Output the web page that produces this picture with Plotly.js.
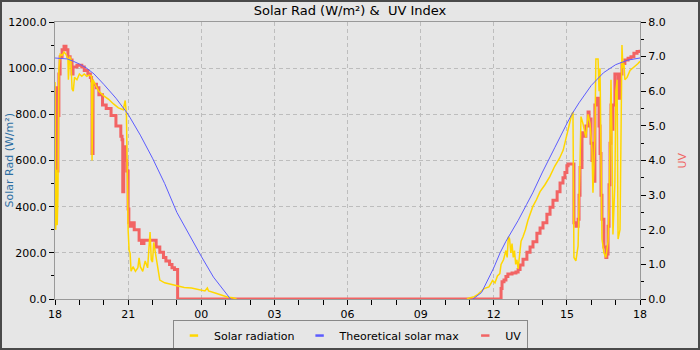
<!DOCTYPE html>
<html><head><meta charset="utf-8">
<script src="https://cdn.plot.ly/plotly-3.0.1.min.js"></script>
<style>
html,body{margin:0;padding:0;background:#e6e6e6;}
#wrap{position:relative;width:700px;height:350px;overflow:hidden;}
#chart{width:700px;height:350px;}
#frame{position:absolute;left:0;top:0;width:700px;height:350px;box-sizing:border-box;border:2px solid #4a4a4a;pointer-events:none;}
</style></head>
<body><div id="wrap"><div id="chart"></div><div id="frame"></div></div>
<script>
// Hours since 18:00 (0 = 18:00, 24 = 18:00 next day)
const tickVals = [0,3,6,9,12,15,18,21,24];
const tickText = ['18','21','00','03','06','09','12','15','18'];

const solarHours = [0.00,0.03,0.06,0.09,0.12,0.16,0.21,0.29,0.37,0.45,0.53,0.55,0.60,0.65,0.70,0.75,0.80,0.90,1.00,1.10,1.20,1.30,1.40,1.50,1.52,1.56,1.65,1.80,2.00,2.20,2.40,2.60,2.80,2.88,2.93,2.96,3.00,3.04,3.08,3.12,3.20,3.30,3.40,3.45,3.50,3.60,3.70,3.80,3.85,3.90,3.95,4.00,4.05,4.15,4.20,4.30,4.50,4.70,5.00,5.30,5.60,5.90,6.00,6.15,6.25,6.30,6.60,6.90,7.10,7.30,7.45,
  null,
  16.90,17.00,17.20,17.35,17.50,17.60,17.80,17.95,18.05,18.15,18.25,18.30,18.40,18.50,18.55,18.60,18.65,18.70,18.75,18.80,18.85,18.90,18.95,19.00,19.05,19.12,19.20,19.30,19.40,19.50,19.60,19.75,19.90,20.10,20.30,20.50,20.70,20.85,21.00,21.10,21.20,21.25,
  21.29,21.37,21.46,21.54,21.58,21.66,21.78,21.87,21.95,22.03,22.07,22.15,22.19,22.28,22.32,22.36,22.40,22.44,22.52,22.60,22.69,22.73,22.77,22.81,22.85,22.89,22.97,23.01,23.06,23.10,23.18,23.22,23.26,23.30,23.34,23.38,23.47,23.59,23.71,23.84,23.92,24.00];
const solarValues = [940,300,560,320,450,1000,1060,1055,1070,1060,1040,950,1050,1040,910,900,960,950,975,965,975,965,970,965,600,950,930,900,880,865,845,828,820,860,800,560,300,210,200,120,140,120,135,178,140,120,165,135,200,290,170,160,245,180,140,82,70,65,55,50,48,40,38,35,48,35,25,15,8,5,0,
  null,
  0,5,10,20,35,45,52,80,70,100,110,150,170,210,180,270,260,200,240,180,210,150,170,130,180,250,270,300,340,370,400,430,465,495,530,575,610,645,710,760,800,810,
  180,165,230,600,790,760,700,800,760,650,460,700,1040,1040,900,1000,560,260,200,180,250,400,700,950,700,280,500,900,950,260,300,800,1100,1000,1020,950,960,990,1000,1010,1020,1030];

const maxHours = [0.00,0.25,0.50,0.75,1.00,1.30,1.60,2.00,2.50,3.00,3.50,4.00,4.50,5.00,5.50,6.00,6.50,7.00,7.20,
  null,
  17.15,17.50,18.00,18.26,18.50,19.00,19.35,19.60,20.00,20.20,20.50,21.00,21.20,21.50,22.00,22.50,22.77,23.00,23.50,24.00];
const maxValues = [1044,1043,1040,1030,1018,1000,975,930,870,800,710,610,500,375,277,185,95,26,0,
  null,
  0,28,135,200,250,340,410,460,550,595,655,760,800,850,925,980,1000,1015,1035,1044];

const uvHours = [0.00,0.04,0.08,0.10,0.12,0.16,0.21,0.29,0.37,0.45,0.53,0.62,0.70,0.74,0.90,1.10,1.20,1.35,1.45,1.50,1.52,1.56,1.70,1.80,1.95,2.10,2.30,2.50,2.70,2.75,2.78,2.82,2.90,2.95,3.00,3.03,3.08,3.15,3.25,3.35,3.45,3.55,3.65,3.80,4.05,4.15,4.30,4.45,4.55,4.70,4.80,4.90,5.02,5.03,
  18.25,18.30,18.34,18.42,18.50,18.58,18.75,18.91,19.00,19.08,19.20,19.36,19.49,19.61,19.77,19.90,20.02,20.18,20.31,20.43,20.60,20.72,20.84,20.92,21.00,21.05,21.25,
  21.29,21.37,21.46,21.50,21.54,21.62,21.70,21.78,21.87,21.91,21.99,22.03,22.11,22.15,22.23,22.32,22.36,22.40,22.44,22.52,22.60,22.64,22.69,22.73,22.77,22.81,22.85,22.89,22.97,23.06,23.10,23.18,23.26,23.38,23.51,23.63,23.75,23.88,24.00];
const uvValues = [6.1,4.7,5.3,3.7,5.3,6.5,7.0,7.2,7.3,7.2,7.0,6.9,6.5,6.7,6.75,6.7,6.6,6.5,6.4,6.3,4.2,6.2,6.1,5.9,5.6,5.5,5.3,5.0,4.7,4.6,3.1,4.4,4.0,3.7,2.6,2.2,2.1,2.2,2.0,2.0,1.7,1.6,1.7,1.7,1.7,1.5,1.35,1.2,1.1,1.0,0.9,0.85,0.85,0,
  0,0.3,0.5,0.55,0.65,0.72,0.75,0.78,0.85,0.98,1.15,1.35,1.5,1.65,1.9,2.05,2.2,2.45,2.65,2.85,3.1,3.35,3.5,3.65,3.85,3.9,3.9,
  2.2,2.1,2.3,3.0,3.8,4.8,4.7,5.0,5.4,5.2,4.5,4.0,3.4,5.6,5.8,5.0,4.2,3.0,2.3,1.5,1.2,1.3,2.1,3.3,4.5,5.6,4.9,5.6,6.5,6.5,5.8,6.5,6.8,6.9,6.95,7.0,7.1,7.15,7.2];

const seriesNames = ['Solar radiation','Theoretical solar max','UV'];
const colors = {solar:'#ffd700', max:'#5c5cff', uv:'#f26464'};

const traces = [
  {x:uvHours, y:uvValues, xaxis:'x', yaxis:'y2', type:'scatter', mode:'lines',
   line:{color:colors.uv, width:3, shape:'hv'}, showlegend:false, hoverinfo:'skip'},
  {x:solarHours, y:solarValues, xaxis:'x', yaxis:'y3', type:'scatter', mode:'lines',
   line:{color:colors.solar, width:1.5}, showlegend:false, connectgaps:false, hoverinfo:'skip'},
  {x:maxHours, y:maxValues, xaxis:'x', yaxis:'y3', type:'scatter', mode:'lines',
   line:{color:colors.max, width:1}, showlegend:false, connectgaps:false, hoverinfo:'skip'},
  // legend entries
  {x:[null], y:[null], type:'scatter', mode:'markers', name:seriesNames[0],
   marker:{symbol:'line-ew', size:6, line:{color:colors.solar, width:2.5}}},
  {x:[null], y:[null], type:'scatter', mode:'markers', name:seriesNames[1],
   marker:{symbol:'line-ew', size:6, line:{color:colors.max, width:2.5}}},
  {x:[null], y:[null], type:'scatter', mode:'markers', name:seriesNames[2],
   marker:{symbol:'line-ew', size:6, line:{color:colors.uv, width:2.5}}}
];

const gridC = '#bdbdbd';
const layout = {
  width:700, height:350,
  paper_bgcolor:'#e6e6e6', plot_bgcolor:'#e6e6e6',
  margin:{l:55, r:60, t:22, b:51, pad:0, autoexpand:false},
  font:{family:'DejaVu Sans, sans-serif', size:11, color:'#000'},
  title:{text:'Solar Rad (W/m²) &\u00a0 UV Index', x:0.5, xanchor:'center', xref:'container',
         y:0.971, yanchor:'middle', yref:'container', font:{size:13, color:'#000'}},
  showlegend:true,
  legend:{orientation:'h', x:0.505, xanchor:'center', y:-0.076, yanchor:'top',
          bordercolor:'#888', borderwidth:1, bgcolor:'#e6e6e6', font:{size:11},
          itemwidth:30, tracegroupgap:0},
  xaxis:{range:[0,24], tickmode:'array', tickvals:tickVals, ticktext:tickText,
         ticks:'outside', ticklen:5, tickcolor:'#000', showline:true, linecolor:'#999', linewidth:1, mirror:true,
         showgrid:true, gridcolor:gridC, griddash:'4px,3px', zeroline:false, fixedrange:true,
         minor:{tickmode:'linear', tick0:0, dtick:1, ticks:'outside', ticklen:5, tickcolor:'#000', showgrid:false}},
  yaxis:{range:[0,1200], tickmode:'linear', tick0:0, dtick:200, tickformat:'.1f',
         ticks:'outside', ticklen:5, tickcolor:'#000', showline:true, linecolor:'#999', linewidth:1,
         showgrid:true, gridcolor:gridC, griddash:'4px,3px', zeroline:false, fixedrange:true,
         minor:{tickmode:'linear', tick0:0, dtick:100, ticks:'outside', ticklen:3, tickcolor:'#000', showgrid:false}},
  yaxis2:{overlaying:'y', side:'right', range:[0,8], tickmode:'linear', tick0:0, dtick:1, tickformat:'.1f',
          ticks:'outside', ticklen:5, tickcolor:'#000', showline:true, linecolor:'#999', linewidth:1,
          showgrid:false, zeroline:false, fixedrange:true,
          minor:{tickmode:'linear', tick0:0, dtick:0.5, ticks:'outside', ticklen:3, tickcolor:'#000', showgrid:false}},
  yaxis3:{overlaying:'y', range:[0,1200], visible:false, fixedrange:true},
  annotations:[
    {text:'Solar Rad (W/m²)', xref:'paper', yref:'paper', x:-0.0786, y:0.50, textangle:-90,
     showarrow:false, xanchor:'center', yanchor:'middle', font:{size:11, color:'#2e6fa3'}},
    {text:'UV', xref:'paper', yref:'paper', x:1.0718, y:0.50, textangle:-90,
     showarrow:false, xanchor:'center', yanchor:'middle', font:{size:11, color:'#f06464'}}
  ]
};

Plotly.newPlot('chart', traces, layout, {displayModeBar:false, staticPlot:true});
</script></body></html>
